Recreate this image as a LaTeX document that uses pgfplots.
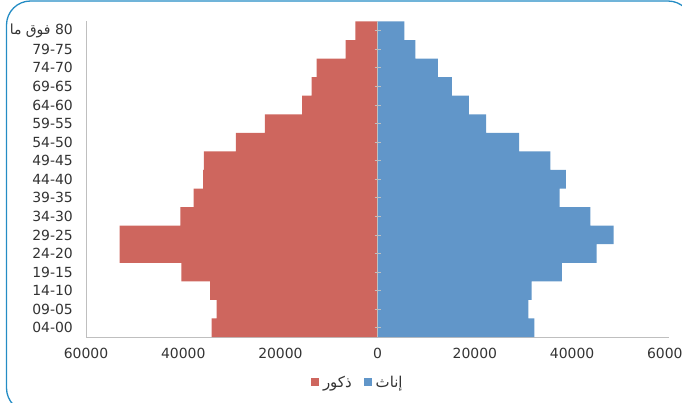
\documentclass[border=0pt]{standalone}
\usepackage{pgfplots}
\pgfplotsset{compat=1.18}
\usepackage{fontspec}
\setmainfont{DejaVu Sans}
\newfontfamily\arabicfont[Script=Arabic]{DejaVu Sans}
\TeXXeTstate=1

\definecolor{male}{RGB}{206,102,94}
\definecolor{female}{RGB}{97,150,201}
\definecolor{frame}{RGB}{36,140,196}
\definecolor{axgray}{RGB}{191,191,191}
\definecolor{txt}{RGB}{51,51,51}

% age groups, bottom to top
\pgfplotstableread{
y males females
0  -34150 32230
1  -33120 31000
2  -34490 31680
3  -40400 37920
4  -53070 45050
5  -53070 48550
6  -40600 43750
7  -37850 37440
8  -35930 38740
9  -35730 35520
10 -29150 29080
11 -23180 22290
12 -15560 18790
13 -13570 15290
14 -12540 12410
15 -6580  7750
16 -4600  5480
}\pyramid

\begin{document}
\begin{tikzpicture}[x=1bp,y=1bp]
\begin{axis}[
    at={(86bp,65bp)}, anchor=south west,
    scale only axis,
    width=583.3bp, height=315.5bp,
    xbar, bar width=1, bar shift=0,
    xmin=-60000, xmax=60000,
    ymin=-0.5, ymax=16.5,
    axis lines*=left,
    axis line style={axgray, line width=0.8bp},
    major tick length=0pt,
    xtick={-60000,-40000,-20000,0,20000,40000,60000},
    xticklabels={60000,40000,20000,0,20000,40000,60000},
    scaled x ticks=false,
    ytick={0,...,16},
    yticklabels={04-00,09-05,14-10,19-15,24-20,29-25,34-30,39-35,44-40,49-45,54-50,59-55,64-60,69-65,74-70,79-75,
      {\beginR\beginL 80\endL{} {\arabicfont فوق} {\arabicfont ما}\endR}},
    ticklabel style={font=\fontsize{14}{16}\selectfont, text=txt, inner sep=0pt},
    yticklabel style={anchor=east, xshift=-13bp},
    xticklabel style={anchor=north, yshift=-11bp},
    /pgf/number format/assume math mode=true,
    legend columns=2,
    legend style={at={(0.466,-0.143)}, anchor=center, draw=none, fill=none,
      font=\fontsize{15}{17}\selectfont, text=txt,
      /tikz/every odd column/.append style={column sep=2bp},
      /tikz/every even column/.append style={column sep=10bp}},
    legend image code/.code={\fill[#1, draw=none] (0bp,-4bp) rectangle (8bp,4bp);},
]
\addplot[fill=male, draw=none] table[x=males, y=y] {\pyramid};
\addlegendentry{{\arabicfont\beginR ذكور\endR}}
\addplot[fill=female, draw=none] table[x=females, y=y] {\pyramid};
\addlegendentry{{\arabicfont\beginR إناث\endR}}
\draw[axgray, line width=0.8bp] (axis cs:0,-0.5) -- (axis cs:0,16.5);
\pgfplotsinvokeforeach{0,...,16}{
  \draw[axgray, line width=0.8bp] ([xshift=-3bp]axis cs:0,#1) -- ([xshift=3bp]axis cs:0,#1);
}
\end{axis}
\draw[frame, line width=1.3bp, rounded corners=24bp] (6.5,-10) rectangle (692,401);
\pgfresetboundingbox
\useasboundingbox (0,0) rectangle (682,402);
\end{tikzpicture}
\end{document}
